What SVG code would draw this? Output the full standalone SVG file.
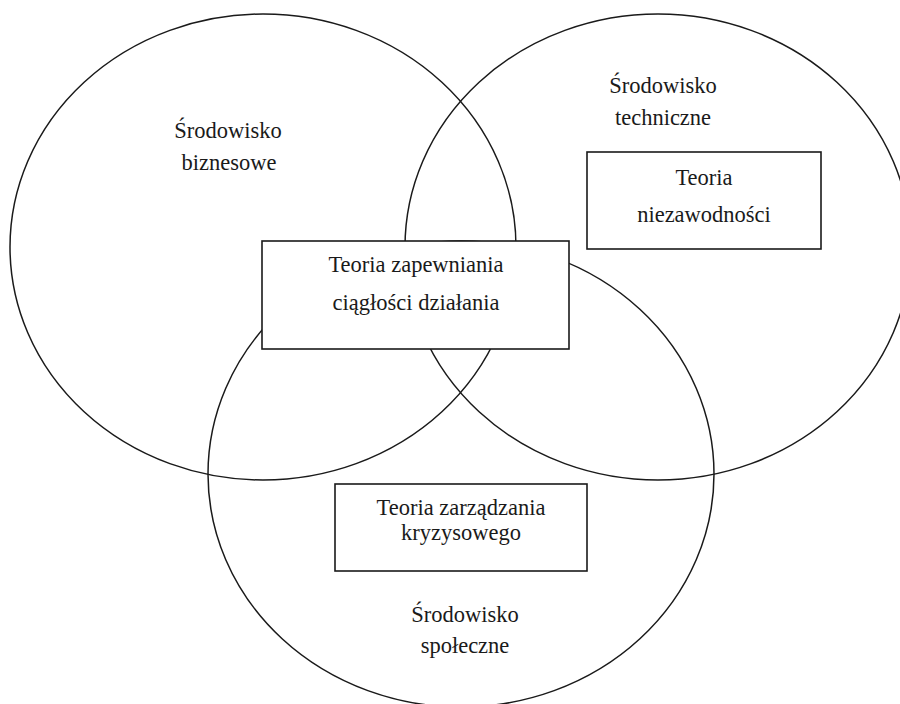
<svg xmlns="http://www.w3.org/2000/svg" width="900" height="704" viewBox="0 0 900 704">
  <style>
    .env { fill: none; stroke: #1a1a1a; stroke-width: 1.5; }
    .box { fill: #ffffff; stroke: #1a1a1a; stroke-width: 1.6; }
    .lbl { font-family: 'Liberation Serif', 'Times New Roman', serif; font-size: 22.5px; fill: #1a1a1a; text-anchor: middle; }
  </style>
  <rect x="0" y="0" width="900" height="704" fill="#ffffff"/>

  <!-- Three overlapping environment areas -->
  <g id="environments">
    <g id="env-business">
      <ellipse class="env" cx="263" cy="247" rx="253" ry="233"/>
      <text class="lbl" x="228" y="138">Środowisko</text>
      <text class="lbl" x="229" y="170">biznesowe</text>
    </g>
    <g id="env-technical">
      <ellipse class="env" cx="658" cy="247" rx="253" ry="233"/>
      <text class="lbl" x="663" y="93">Środowisko</text>
      <text class="lbl" x="663" y="125">techniczne</text>
    </g>
    <g id="env-social">
      <ellipse class="env" cx="461" cy="474" rx="253" ry="233"/>
      <text class="lbl" x="465" y="622">Środowisko</text>
      <text class="lbl" x="465" y="653">społeczne</text>
    </g>
  </g>

  <!-- Theory boxes -->
  <g id="theory-continuity">
    <rect class="box" x="262" y="241" width="307" height="108"/>
    <text class="lbl" x="416" y="272">Teoria zapewniania</text>
    <text class="lbl" x="416" y="310">ciągłości działania</text>
  </g>
  <g id="theory-reliability">
    <rect class="box" x="587" y="152" width="234" height="97"/>
    <text class="lbl" x="704" y="185">Teoria</text>
    <text class="lbl" x="704" y="222">niezawodności</text>
  </g>
  <g id="theory-crisis">
    <rect class="box" x="335" y="484" width="252" height="87"/>
    <text class="lbl" x="461" y="515">Teoria zarządzania</text>
    <text class="lbl" x="461" y="540">kryzysowego</text>
  </g>

  <g id="connectors"></g>
</svg>
